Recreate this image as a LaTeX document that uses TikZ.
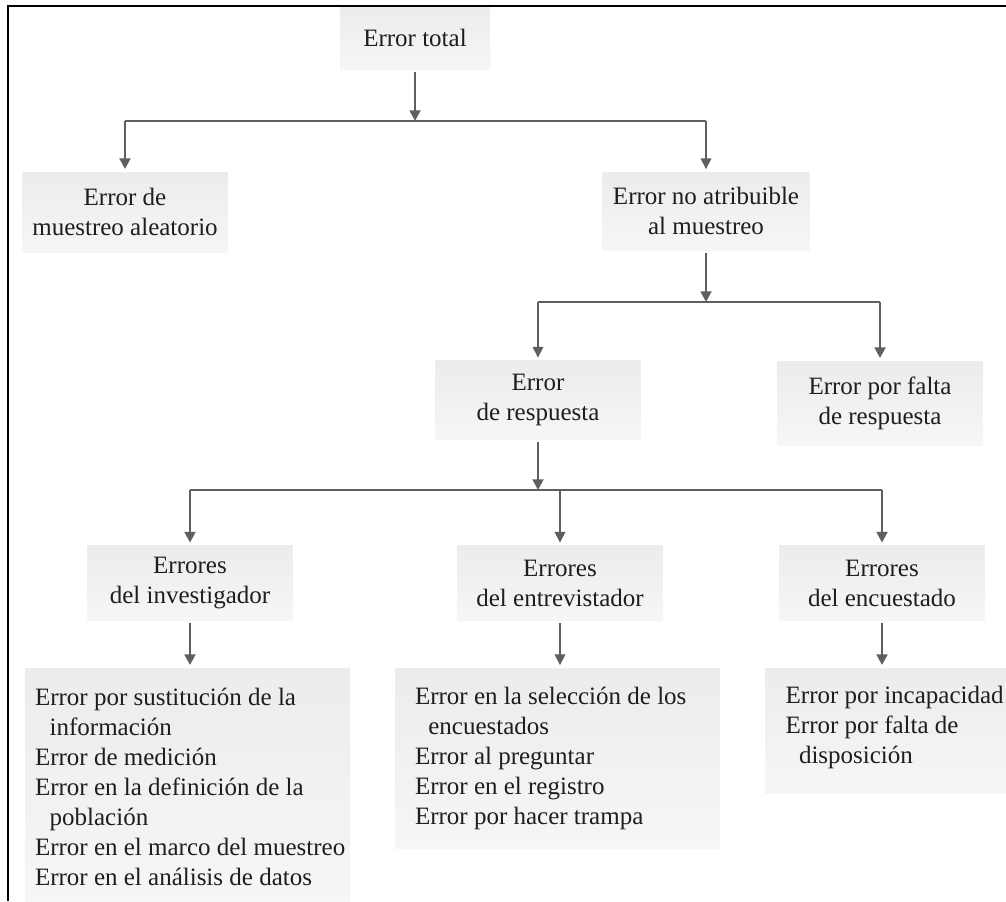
\documentclass[tikz,border=0pt]{standalone}
\usepackage{fontspec}
\setmainfont{Liberation Serif}
\usetikzlibrary{arrows.meta}
\definecolor{boxtop}{HTML}{ECECEC}
\definecolor{boxlow}{HTML}{F6F6F6}
\definecolor{linec}{HTML}{5F5F5F}
\definecolor{txt}{HTML}{1E1E1E}
\newcommand{\diagfont}{\fontsize{18.75}{22.5}\selectfont}
\begin{document}
\begin{tikzpicture}[x=0.75pt,y=-0.75pt,
  box/.style={top color=boxtop,bottom color=boxlow,draw=none,inner sep=0pt,
    align=center,font=\diagfont,text=txt},
  listtext/.style={inner sep=0pt,align=left,font=\diagfont,text=txt,anchor=west},
  thickarr/.style={draw=linec,line width=2pt,-{Triangle[length=8pt,width=8pt]},
    shorten <=2pt,shorten >=2pt},
  thinarr/.style={draw=linec,line width=1.1pt,-{Triangle[length=8pt,width=8pt]},
    shorten <=2pt,shorten >=2pt},
  barline/.style={draw=linec,line width=1.8pt},
  frame/.style={draw=black,line width=1.6pt}]
\useasboundingbox (0,0) rectangle (1006,901);
\draw[frame] (1006,6) -- (8,6) -- (8,901);

% level 0
\node[box,minimum width=112.5pt,minimum height=46.5pt] (tot) at (415,38) {Error total};
% level 1
\node[box,minimum width=154.5pt,minimum height=60pt] (ale) at (125,212) {Error de\\muestreo aleatorio};
\node[box,minimum width=155.25pt,minimum height=58.5pt] (noat) at (706,211) {Error no atribuible\\al muestreo};
% level 2
\node[box,minimum width=153.75pt,minimum height=59.25pt] (resp) at (538,400) {Error\\de respuesta};
\node[box,minimum width=153.75pt,minimum height=63pt] (falta) at (880,403) {Error por falta\\de respuesta};
% level 3
\node[box,minimum width=153.75pt,minimum height=56.25pt] (inv) at (190,583) {Errores\\del investigador};
\node[box,minimum width=153.75pt,minimum height=56.25pt] (ent) at (560,583) {Errores\\del entrevistador};
\node[box,minimum width=153.75pt,minimum height=56.25pt] (enc) at (882,583) {Errores\\del encuestado};
% level 4 boxes
\node[box,minimum width=243.75pt,minimum height=174.75pt] (L) at (187.5,784.5) {};
\node[box,minimum width=243.75pt,minimum height=135pt] (M) at (557.5,758) {};
\node[box,minimum width=180.75pt,minimum height=93.75pt] (R) at (885.5,730.5) {};
\node[listtext] (Lt) at ([xshift=7.5pt,yshift=-2pt]L.west) {Error por sustitución de la\\
\hspace*{11pt}información\\
Error de medición\\
Error en la definición de la\\
\hspace*{11pt}población\\
Error en el marco del muestreo\\
Error en el análisis de datos};
\node[listtext] (Mt) at ([xshift=15pt]M.west) {Error en la selección de los\\
\hspace*{10pt}encuestados\\
Error al preguntar\\
Error en el registro\\
Error por hacer trampa};
\node[listtext] (Rt) at ([xshift=15.5pt,yshift=2pt]R.west) {Error por incapacidad\\
Error por falta de\\
\hspace*{10pt}disposición};

% connectors level 0 -> 1
\coordinate (b1) at (415,121);
\draw[barline] (ale.north |- b1) -- (noat.north |- b1);
\draw[thickarr,shorten >=0pt] (tot.south) -- (b1);
\draw[thickarr,shorten <=0pt] (ale.north |- b1) -- (ale.north);
\draw[thinarr,shorten <=0pt] (noat.north |- b1) -- (noat.north);
% 1 -> 2
\coordinate (b2) at (706,302);
\draw[barline] (resp.north |- b2) -- (falta.north |- b2);
\draw[thickarr,shorten >=0pt] (noat.south) -- (b2);
\draw[thinarr,shorten <=0pt] (resp.north |- b2) -- (resp.north);
\draw[thickarr,shorten <=0pt] (falta.north |- b2) -- (falta.north);
% 2 -> 3
\coordinate (b3) at (538,490);
\draw[barline] (inv.north |- b3) -- (enc.north |- b3);
\draw[thickarr,shorten >=0pt] (resp.south) -- (b3);
\draw[thickarr,shorten <=0pt] (inv.north |- b3) -- (inv.north);
\draw[thinarr,shorten <=0pt] (ent.north |- b3) -- (ent.north);
\draw[thickarr,shorten <=0pt] (enc.north |- b3) -- (enc.north);
% 3 -> 4
\draw[thickarr] (inv.south) -- (inv.south |- L.north);
\draw[thinarr] (ent.south) -- (ent.south |- M.north);
\draw[thickarr] (enc.south) -- (enc.south |- R.north);
\end{tikzpicture}
\end{document}
